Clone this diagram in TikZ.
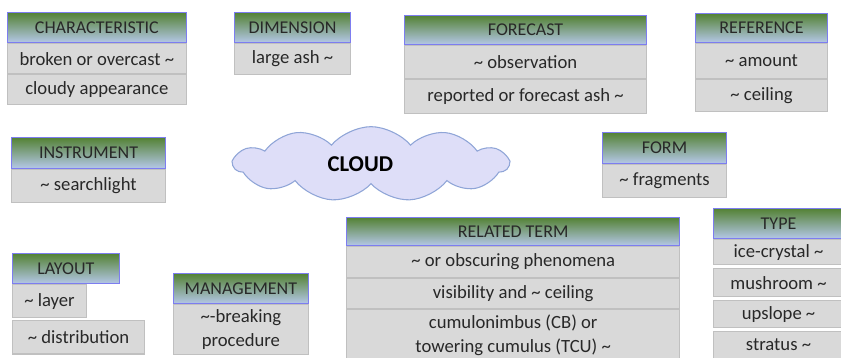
\documentclass[tikz,border=0pt]{standalone}
\usepackage{fontspec}
\setmainfont{Carlito}
\usetikzlibrary{positioning,shapes.symbols}

\definecolor{hdtop}{RGB}{84,130,53}
\definecolor{hdbot}{RGB}{180,199,231}
\definecolor{hdline}{RGB}{125,125,240}
\definecolor{cellfill}{RGB}{217,217,217}
\definecolor{cellline}{RGB}{192,192,192}
\definecolor{txtgray}{RGB}{40,40,40}
\definecolor{cloudfill}{RGB}{222,222,248}
\definecolor{cloudline}{RGB}{143,165,215}
\newcommand{\tld}{\textasciitilde}

\tikzset{
  head/.style={draw=hdline, line width=0.8pt, top color=hdtop, bottom color=hdbot,
    minimum height=22.5pt, inner sep=0pt, text=txtgray, font=\fontsize{13.5}{16}\selectfont},
  cell/.style={draw=cellline, line width=0.8pt, fill=cellfill, minimum height=23pt,
    inner sep=0pt, text=txtgray, align=center, font=\fontsize{14}{18}\selectfont},
}

\begin{document}
\begin{tikzpicture}[x=0.75pt, y=-0.75pt]
  \clip (0,0) rectangle (841,357);

  %%% top row
  \node[head, anchor=north west, minimum width=134pt] (chr) at (7,12) {CHARACTERISTIC};
  \node[cell, below=0pt of chr, minimum width=134pt, minimum height=22.5pt] (chr1) {broken or overcast \tld};
  \node[cell, below=0pt of chr1, minimum width=134pt, minimum height=22.5pt] (chr2) {cloudy appearance};

  \node[head, anchor=north west, minimum width=87pt] (dim) at (234,12) {DIMENSION};
  \node[cell, below=0pt of dim, minimum width=87pt] (dim1) {large ash \tld};

  \node[head, anchor=north west, minimum width=181.5pt, minimum height=21.75pt] (fct) at (404,15) {FORECAST};
  \node[cell, below=0pt of fct, minimum width=181.5pt, minimum height=24.75pt] (fct1) {\tld\ observation};
  \node[cell, below=0pt of fct1, minimum width=181.5pt, minimum height=25.5pt] (fct2) {reported or forecast ash \tld};

  \node[head, anchor=north west, minimum width=99pt, minimum height=21.75pt] (ref) at (695,13) {REFERENCE};
  \node[cell, below=0pt of ref, minimum width=99pt, minimum height=26pt] (ref1) {\tld\ amount};
  \node[cell, below=0pt of ref1, minimum width=99pt, minimum height=24pt] (ref2) {\tld\ ceiling};

  %%% middle
  \node[head, anchor=north west, minimum width=115.5pt, minimum height=23pt] (ins) at (11,137) {INSTRUMENT};
  \node[cell, below=0pt of ins, minimum width=115.5pt, minimum height=24.75pt] (ins1) {\tld\ searchlight};

  \node[cloud, cloud puffs=11, cloud puff arc=100, aspect=3.6, draw=cloudline, line width=0.8pt,
    fill=cloudfill, minimum width=206pt, minimum height=56pt, inner sep=0pt,
    font=\fontsize{17}{20}\selectfont\bfseries] (cld) at (371,164) {CLOUD\kern16pt};

  \node[head, anchor=north west, minimum width=93pt, minimum height=23pt] (frm) at (602,132) {FORM};
  \node[cell, below=0pt of frm, minimum width=93pt, minimum height=24.75pt] (frm1) {\tld\ fragments};

  %%% bottom row
  \node[head, anchor=north west, minimum width=80pt] (lay) at (12,253) {LAYOUT};
  \node[cell, anchor=north west, minimum width=55.5pt, minimum height=24.75pt] (lay1) at (lay.south west) {\tld\ layer};
  \node[cell, below=1.5pt of lay1.south west, anchor=north west, minimum width=99pt, minimum height=25pt] (lay2) {\tld\ distribution};

  \node[head, anchor=north west, minimum width=101pt] (mgt) at (173,273) {MANAGEMENT};
  \node[cell, below=0pt of mgt, minimum width=101pt, minimum height=37.5pt] (mgt1) {\tld-breaking\\procedure};

  \node[head, anchor=north west, minimum width=250pt, minimum height=21pt] (rel) at (346,217) {RELATED TERM};
  \node[cell, below=0pt of rel, minimum width=250pt, minimum height=23.25pt] (rel1) {\tld\ or obscuring phenomena};
  \node[cell, below=0pt of rel1, minimum width=250pt, minimum height=22.5pt] (rel2) {visibility and \tld\ ceiling};
  \node[cell, below=0pt of rel2, minimum width=250pt, minimum height=38.5pt] (rel3) {cumulonimbus (CB) or\\towering cumulus (TCU) \tld};

  \node[head, anchor=north west, minimum width=97.5pt] (typ) at (713,208) {TYPE};
  \node[cell, below=0pt of typ, minimum width=97.5pt, minimum height=19pt] (typ1) {ice-crystal \tld};
  \node[cell, below=2pt of typ1, minimum width=97.5pt, minimum height=21pt] (typ2) {mushroom \tld};
  \node[cell, below=2pt of typ2, minimum width=97.5pt, minimum height=20.5pt] (typ3) {upslope \tld};
  \node[cell, below=2pt of typ3, minimum width=97.5pt, minimum height=20pt] (typ4) {stratus \tld};
\end{tikzpicture}
\end{document}
